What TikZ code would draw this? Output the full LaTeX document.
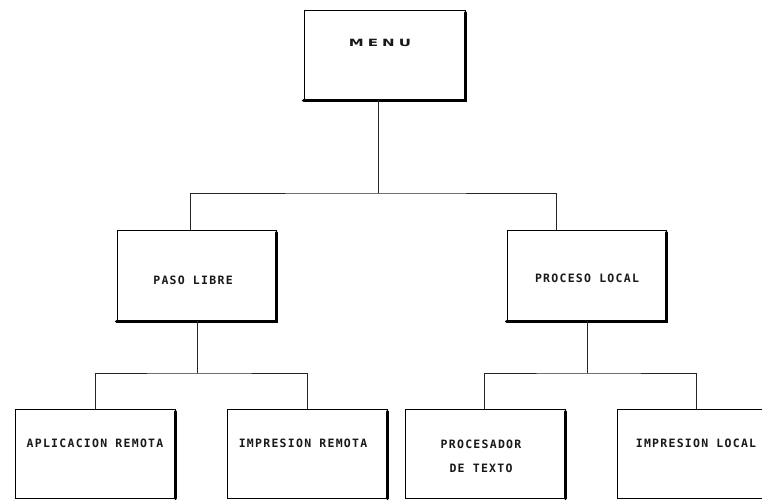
\documentclass[tikz,border=0pt]{standalone}
\usepackage{fontspec}
\setmainfont{DejaVu Sans Mono}
\newfontfamily\boxfont[LetterSpace=11]{DejaVu Sans Mono Bold}
\newfontfamily\titlefont[LetterSpace=27]{DejaVu Sans Bold}
\begin{document}
\begin{tikzpicture}[x=1pt,y=-1pt,
  boxnode/.style={draw=black,line width=0.8pt,rectangle,inner sep=0pt,
    minimum width=160pt,minimum height=90pt},
  shadowedge/.style={line width=3.5pt,line cap=round},
  label/.style={font=\boxfont\fontsize{11.5}{13}\selectfont,inner sep=0pt,
    align=center,text=black!90},
  link/.style={draw=black!85,line width=0.8pt}]
  \clip (0,0) rectangle (762,500);
  \fill[white] (0,0) rectangle (762,500);

  % boxes
  \node[boxnode,minimum width=161pt] (menu) at (384.5,55) {};
  \node[boxnode,minimum width=159pt,minimum height=91pt] (paso) at (196.5,275.5) {};
  \node[boxnode,minimum width=159pt,minimum height=91pt] (proc) at (586.5,275.5) {};
  \node[boxnode,minimum height=89pt] (apl) at (95,453.5) {};
  \node[boxnode,minimum height=89pt] (impr) at (307,453.5) {};
  \node[boxnode,minimum height=89pt] (texto) at (485,453.5) {};
  \node[boxnode,minimum height=89pt] (impl) at (697,453.5) {};

  % heavy right and bottom edges
  \foreach \n in {menu,paso,proc}
    \draw[shadowedge] ([yshift=-3pt]\n.north east) -- (\n.south east) -- (\n.south west);
  \foreach \n in {apl,impr,texto}
    \draw[shadowedge] ([yshift=-3pt]\n.north east) -- (\n.south east);
  \foreach \n in {apl,impr,texto,impl}
    \draw[line width=1.6pt] (\n.south east) -- (\n.south west);

  % labels
  \node[label,font=\titlefont\fontsize{10}{12}\selectfont] (tmenu) at (380,43) {\scalebox{1.5}[1]{MENU}};
  \node[label] (tpaso) at (193,280) {PASO LIBRE};
  \node[label] (tproc) at (587,278) {PROCESO LOCAL};
  \node[label] (tapl) at (95,443) {APLICACION REMOTA};
  \node[label] (timpr) at (303,443) {IMPRESION REMOTA};
  \node[label] (ttexto) at (481,456.5) {PROCESADOR\\[11pt]DE TEXTO};
  \node[label] (timpl) at (696,443) {IMPRESION LOCAL};

  % connectors
  \coordinate (j1) at (378,193);
  \coordinate (j2) at (197,373);
  \coordinate (j3) at (587,373);
  \draw[link] (j1 |- menu.south) -- (j1);
  \draw[link] ([xshift=-6.5pt]paso.north) |- (j1) -| ([xshift=-30.5pt]proc.north);
  \draw[link] (paso.south -| j2) -- (j2);
  \draw[link] (apl.north) |- (j2) -| (impr.north);
  \draw[link] (proc.south -| j3) -- (j3);
  \draw[link] ([xshift=-1pt]texto.north) |- (j3) -| ([xshift=-1pt]impl.north);
\end{tikzpicture}
\end{document}
